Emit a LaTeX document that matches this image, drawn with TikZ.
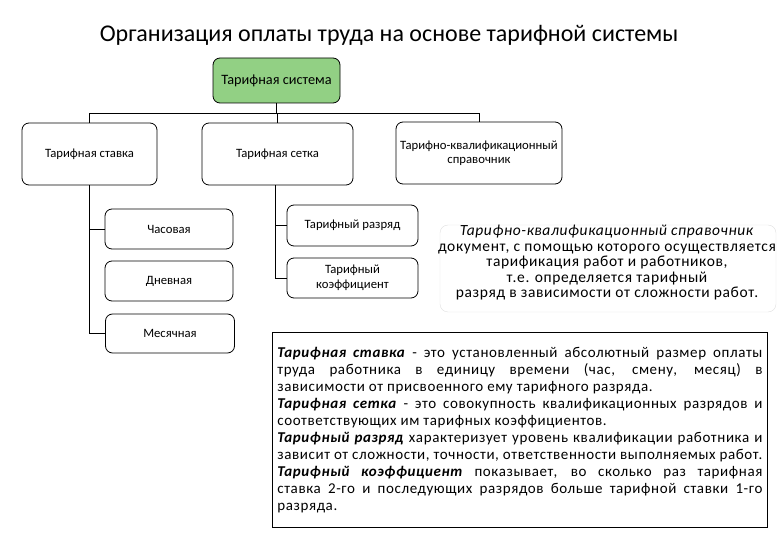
\documentclass[tikz,border=0pt]{standalone}
\usepackage{fontspec}
\setmainfont{Carlito}
\newfontfamily\spacedfont[LetterSpace=4]{Carlito}
\newfontfamily\capfont[LetterSpace=4]{Carlito}
\definecolor{grn}{RGB}{146,208,132}
\begin{document}
\begin{tikzpicture}[x=1pt,y=-1pt,
  box/.style={draw, line width=0.8pt, rounded corners=7pt, align=center, inner sep=0pt,
    font=\fontsize{12.7}{14.5}\selectfont},
  conn/.style={draw, line width=0.8pt},
  capt/.style={align=center, font=\capfont\fontsize{15.5}{15.5}\selectfont},
  defs/.style={draw, line width=0.8pt, anchor=north west, inner xsep=5pt, inner ysep=0pt,
    text width=485pt, minimum height=195pt, align=justify, font=\spacedfont\fontsize{15}{17}\selectfont}]
\useasboundingbox (0,0) rectangle (780,540);
\node (title) at (389,35) {\fontsize{24}{28}\selectfont Организация оплаты труда на основе тарифной системы};
\node[box, fill=grn, minimum width=127pt, minimum height=45pt, font=\fontsize{14.3}{16}\selectfont] (sys) at (276.5,80.5) {Тарифная система};
\node[box, minimum width=135pt, minimum height=62pt] (stavka) at (89.5,154) {Тарифная ставка};
\node[box, minimum width=151pt, minimum height=62pt] (setka) at (277.5,154) {Тарифная сетка};
\node[box, minimum width=166pt, minimum height=62pt] (tks) at (479,153) {Тарифно-квалификационный\\справочник};
\node[box, minimum width=128pt, minimum height=40pt] (chas) at (169,229) {Часовая};
\node[box, minimum width=128pt, minimum height=40pt] (dnev) at (169,281) {Дневная};
\node[box, minimum width=129pt, minimum height=39pt] (mes) at (170,333.5) {Месячная};
\node[box, minimum width=131pt, minimum height=41pt] (razr) at (352.5,225.5) {Тарифный разряд};
\node[box, minimum width=131pt, minimum height=40pt] (koef) at (352.5,278) {Тарифный\\коэффициент};
\coordinate (bus) at (0,113);
\draw[conn] (sys.south) -- (sys.south |- bus);
\draw[conn] (stavka.north) -- (stavka.north |- bus) -| (tks.north);
\draw[conn] (setka.north) -- (setka.north |- bus);
\coordinate (sv) at (stavka.south);
\draw[conn] (sv) |- (mes.west);
\draw[conn] (sv |- chas.west) -- (chas.west);
\coordinate (tv) at ([xshift=-2.5pt]setka.south);
\draw[conn] (tv) |- (koef.west);
\draw[conn] (tv |- razr.west) -- (razr.west);
\node[draw=black!12, fill=white, rounded corners=8pt, minimum width=336pt, minimum height=87pt] (cbg) at (608,268.5) {};
\node[capt] (cap) at (607,263) {\textit{Тарифно-квалификационный справочник}\\документ, с помощью которого осуществляется\\тарификация работ и работников,\\т.е. определяется тарифный\\разряд в зависимости от сложности работ.};
\node[defs] (def) at (272,332) {\textbf{\textit{Тарифная ставка}} - это установленный абсолютный размер оплаты \linebreak
труда работника в единицу времени (час, смену, месяц) в \linebreak
зависимости от присвоенного ему тарифного разряда.\par
\textbf{\textit{Тарифная сетка}} - это совокупность квалификационных разрядов и \linebreak
соответствующих им тарифных коэффициентов.\par
\textbf{\textit{Тарифный разряд}} характеризует уровень квалификации работника и \linebreak
зависит от сложности, точности, ответственности выполняемых работ.\par
\textbf{\textit{Тарифный коэффициент}} показывает, во сколько раз тарифная \linebreak
ставка 2-го и последующих разрядов больше тарифной ставки 1-го \linebreak
разряда.};
\end{tikzpicture}
\end{document}
